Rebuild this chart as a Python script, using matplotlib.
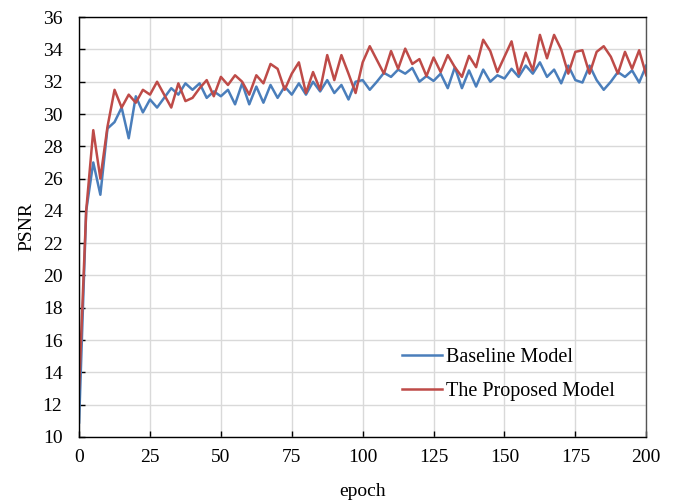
#!/usr/bin/env python3
"""
PSNR vs epoch for the baseline and the proposed model
"""

import numpy as np
import matplotlib
matplotlib.use('Agg')
import matplotlib.pyplot as plt

# epochs sampled every 2.5
epochs = np.arange(0, 200.1, 2.5)

baseline = [
    10.9, 24.0, 27.0, 25.0, 29.1, 29.5, 30.4, 28.5, 31.1, 30.1,
    30.9, 30.4, 31.0, 31.6, 31.2, 31.9, 31.5, 31.9, 31.0, 31.4,
    31.1, 31.5, 30.6, 31.9, 30.6, 31.7, 30.7, 31.8, 31.0, 31.7,
    31.2, 31.9, 31.2, 32.0, 31.4, 32.1, 31.3, 31.8, 30.9, 32.0,
    32.1, 31.5, 32.0, 32.55, 32.3, 32.75, 32.5, 32.85, 32.0, 32.35,
    32.05, 32.5, 31.6, 32.9, 31.6, 32.7, 31.7, 32.75, 32.0, 32.4,
    32.2, 32.8, 32.3, 33.0, 32.5, 33.2, 32.3, 32.75, 31.9, 33.0,
    32.1, 31.95, 33.0, 32.1, 31.5, 32.0, 32.6, 32.3, 32.7, 31.95,
    33.0,
]

proposed = [
    13.0, 24.0, 29.0, 26.0, 29.2, 31.5, 30.4, 31.2, 30.7, 31.5,
    31.2, 32.0, 31.2, 30.4, 31.9, 30.8, 31.0, 31.6, 32.1, 31.1,
    32.3, 31.8, 32.4, 32.0, 31.2, 32.4, 31.9, 33.1, 32.8, 31.5,
    32.5, 33.2, 31.3, 32.6, 31.5, 33.65, 32.1, 33.65, 32.5, 31.3,
    33.2, 34.2, 33.35, 32.5, 33.9, 32.8, 34.05, 33.1, 33.4, 32.35,
    33.5, 32.6, 33.65, 32.9, 32.3, 33.6, 32.9, 34.6, 33.9, 32.6,
    33.55, 34.5, 32.5, 33.8, 32.7, 34.9, 33.45, 34.9, 34.0, 32.5,
    33.85, 33.95, 32.5, 33.85, 34.2, 33.55, 32.5, 33.85, 32.8, 33.95,
    32.4,
]

x_ticks = list(range(0, 201, 25))
y_ticks = list(range(10, 37, 2))

plt.rcParams['font.family'] = ['Liberation Serif', 'DejaVu Serif']

fig = plt.figure(figsize=(6.76, 5.04), dpi=100)
ax = fig.add_axes([0.117, 0.133, 0.839, 0.833])

ax.plot(epochs, baseline, color='#4a7ebb', linewidth=1.8, label='Baseline Model')
ax.plot(epochs, proposed, color='#be4b48', linewidth=1.8, label='The Proposed Model')

ax.set_xlim(0, 200)
ax.set_ylim(10, 36)
ax.set_xticks(x_ticks)
ax.set_yticks(y_ticks)
ax.tick_params(direction='in', length=4, width=1, labelsize=14, colors='black')
ax.tick_params(axis='x', pad=9)
ax.tick_params(axis='y', pad=12)
ax.grid(True, color='#d9d9d9', linewidth=1)
ax.set_axisbelow(True)
for sp in ax.spines.values():
    sp.set_linewidth(1)
    sp.set_color('black')
ax.spines['right'].set_color('#555555')

ax.set_xlabel('epoch', fontsize=14, labelpad=12)
ax.set_ylabel('PSNR', fontsize=14, labelpad=5)

ax.legend(loc='center left', bbox_to_anchor=(0.570, 0.149), frameon=False,
          fontsize=14.5, handlelength=1.95, handletextpad=0.2, labelspacing=0.75,
          borderpad=0, borderaxespad=0)

plt.savefig('out.png', dpi=100)
